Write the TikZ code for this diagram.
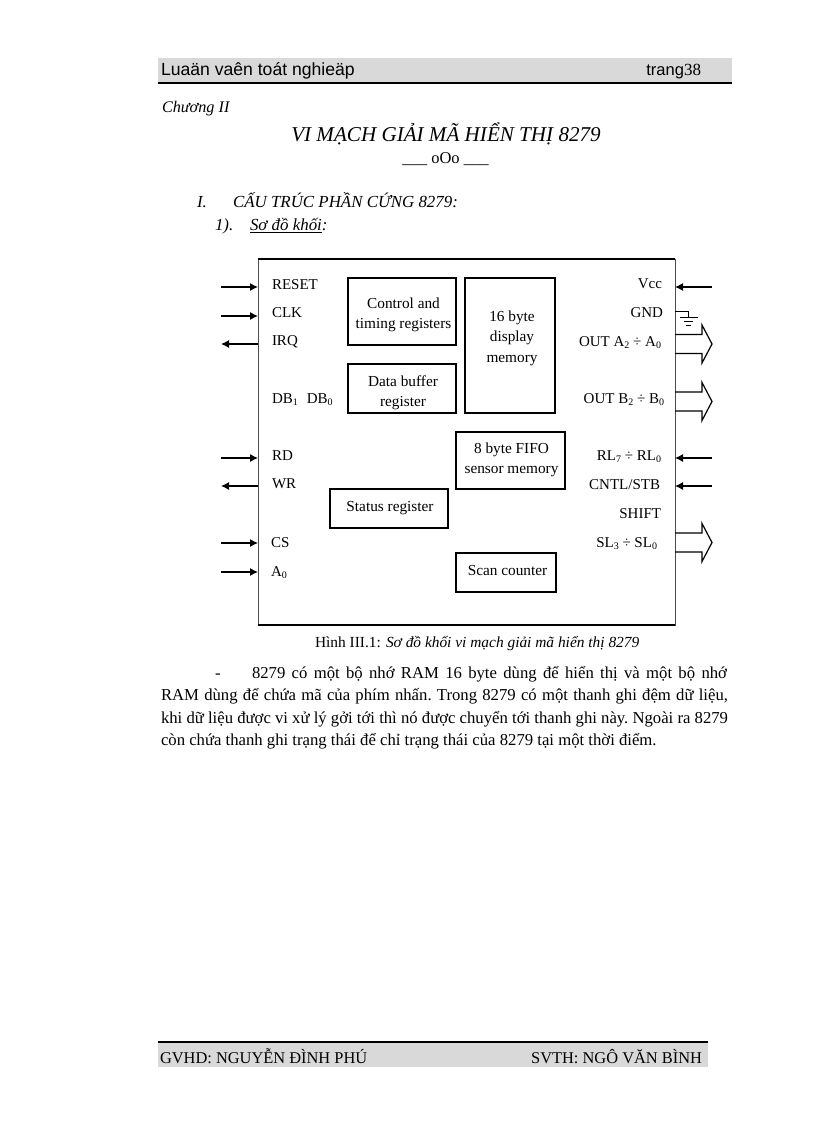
\documentclass[tikz,border=0pt]{standalone}
\usepackage{fontspec}
\setmainfont{Liberation Serif}
\newfontfamily\hdrfont{Liberation Sans}
\usetikzlibrary{arrows.meta}
\newcommand{\lowsb}[1]{\raisebox{-0.3ex}{\fontsize{10}{11}\selectfont #1}}
\tikzset{
 x=1pt,y=-1pt,
 every node/.style={inner sep=0pt,outer sep=0pt},
 lab/.style={font=\fontsize{15}{17}\selectfont,anchor=base west},
 labr/.style={font=\fontsize{15}{17}\selectfont,anchor=base east},
 blockbox/.style={draw=black,line width=1.25pt,anchor=north west},
 blocktext/.style={align=center,font=\fontsize{15.3}{20.5}\selectfont,anchor=north},
 chipbox/.style={draw=black!70,line width=1pt,anchor=north west},
 chipedge/.style={line width=2pt,black},
 sig/.style={line width=1.1pt,-{Latex[length=8pt,width=8pt]}},
 bus/.style={line width=1.2pt,line join=miter},
 gnd/.style={line width=1pt},
 bodyl/.style={font=\fontsize{16.7}{19}\selectfont\frenchspacing,anchor=base west},
 sect/.style={font=\fontsize{16.9}{19}\selectfont\itshape,anchor=base west},
 band/.style={fill=black!15,draw=none},
 rulel/.style={line width=2.6pt,black}
}
\begin{document}
\begin{tikzpicture}
\useasboundingbox (0,0) rectangle (816,1123);
\fill[white] (0,0) rectangle (816,1123);
% header
\fill[band] (158,58) rectangle (732,82);
\draw[rulel] (158,83) -- (732,83);
\node[anchor=base west,font=\hdrfont\fontsize{17.6}{19}\selectfont] (hl) at (161,76) {Luaän vaên toát nghieäp};
\node[anchor=base east] (hr) at (701,76) {\hdrfont\fontsize{16.5}{18}\selectfont trang\rmfamily\fontsize{17}{18}\selectfont 38};
\node[anchor=base west,font=\fontsize{16.2}{18}\selectfont\itshape] (ch) at (162,113) {Chương II};
\node[anchor=base,font=\fontsize{21.1}{24}\selectfont\itshape] (title) at (446,142) {VI MẠCH GIẢI MÃ HIỂN THỊ 8279};
\node[anchor=base,font=\fontsize{16.5}{18}\selectfont] (ooo) at (445.5,164) {\_\_\_ oOo \_\_\_};
\node[sect] (s1) at (197,208) {I.};
\node[sect] (s1t) at (233,208) {CẤU TRÚC PHẦN CỨNG 8279:};
\node[sect] (s2) at (215,231) {1).};
\node[sect] (s2t) at (250,231) {\underline{Sơ đồ khối}:};
% chip
\node[chipbox,minimum width=417pt,minimum height=366pt] (chip) at (258,259) {};
\draw[chipedge] (chip.north west) -- (chip.north east);
\draw[chipedge] (chip.south west) -- (chip.south east);
% blocks
\node[blockbox,minimum width=108pt,minimum height=67pt] (ctrl) at (348,278) {};
\node[blocktext] (ctrlt) at (403.5,293.65) {\strut Control and\\\strut timing registers};
\node[blockbox,minimum width=108pt,minimum height=49pt] (dbuf) at (348,364) {};
\node[blocktext] (dbuft) at (403,371.65) {\strut Data buffer\\\strut register};
\node[blockbox,minimum width=90pt,minimum height=135pt] (disp) at (465,278) {};
\node[blocktext] (dispt) at (512,306.65) {\strut 16 byte\\\strut display\\\strut memory};
\node[blockbox,minimum width=109pt,minimum height=57pt] (fifo) at (456,432) {};
\node[blocktext] (fifot) at (511.5,438.65) {\strut 8 byte FIFO\\\strut sensor memory};
\node[blockbox,minimum width=118pt,minimum height=39pt] (stat) at (330,489) {};
\node[blocktext] (statt) at (390,496.65) {\strut Status register};
\node[blockbox,minimum width=100pt,minimum height=39pt] (scan) at (456,553) {};
\node[blocktext] (scant) at (507.5,560.65) {\strut Scan counter};
% left labels
\node[lab] (lreset) at (272,289) {RESET};
\node[lab] (lclk) at (272,317) {CLK};
\node[lab] (lirq) at (272,345) {IRQ};
\node[lab] (ldb) at (272,403) {DB\lowsb{1}\hspace{9pt}DB\lowsb{0}};
\node[lab] (lrd) at (272,460) {RD};
\node[lab] (lwr) at (272,488) {WR};
\node[lab] (lcs) at (271,547) {CS};
\node[lab] (la0) at (271,576) {A\lowsb{0}};
% right labels
\node[labr] (lvcc) at (662,288) {Vcc};
\node[labr] (lgnd) at (663,317) {GND};
\node[labr] (lota) at (661,346) {OUT A\lowsb{2} ÷ A\lowsb{0}};
\node[labr] (lotb) at (664,403) {OUT B\lowsb{2} ÷ B\lowsb{0}};
\node[labr] (lrl) at (661,460) {RL\lowsb{7} ÷ RL\lowsb{0}};
\node[labr] (lcn) at (660,489) {CNTL/STB};
\node[labr] (lsh) at (661,518) {SHIFT};
\node[labr] (lsl) at (657,547) {SL\lowsb{3} ÷ SL\lowsb{0}};
% left connectors
\foreach \nm/\yy in {a/287,b/316,d/458,f/543,g/572}{
  \coordinate (p\nm) at (221,\yy);
  \coordinate (q\nm) at (258,\yy);
  \draw[sig] (p\nm) -- (q\nm);
}
\foreach \nm/\yy in {c/344,e/486}{
  \coordinate (p\nm) at (221,\yy);
  \coordinate (q\nm) at (258,\yy);
  \draw[sig] (q\nm) -- (p\nm);
}
% right connectors
\foreach \nm/\yy in {h/287,i/458,j/486}{
  \coordinate (r\nm) at (712,\yy);
  \coordinate (s\nm) at (675,\yy);
  \draw[sig] (r\nm) -- (s\nm);
}
% ground
\coordinate (g0) at (675,311);
\coordinate (g1) at (688,311);
\coordinate (g2) at (688,317);
\draw[gnd] (g0) -- (g1) -- (g2);
\draw[gnd] (680,317.5) -- (698,317.5);
\draw[gnd] (684,321.5) -- (693,321.5);
\draw[line width=1.3pt] (686,325.5) -- (691,325.5);
% bus arrows
\foreach \yy in {344,401.5,542.5}{
  \draw[bus] (675,\yy-9.5) -- (702,\yy-9.5) -- (702,\yy-19) -- (712,\yy) -- (702,\yy+19) -- (702,\yy+9.5) -- (675,\yy+9.5);
}
% caption
\node[anchor=base west,font=\fontsize{15.4}{17}\selectfont] (cap) at (315,647) {Hình III.1: \textit{Sơ đồ khối vi mạch giải mã hiển thị 8279}};
% body
\node[bodyl] (b0) at (215,678) {-};
\node[bodyl] (b1) at (252,678) {\makebox[475pt][s]{8279 có một bộ nhớ RAM 16 byte dùng để hiển thị và một bộ nhớ}};
\node[bodyl] (b2) at (161,700) {\makebox[567pt][s]{RAM dùng để chứa mã của phím nhấn. Trong 8279 có một thanh ghi đệm dữ liệu,}};
\node[bodyl] (b3) at (161,723) {\makebox[567pt][s]{khi dữ liệu được vi xử lý gởi tới thì nó được chuyển tới thanh ghi này. Ngoài ra 8279}};
\node[bodyl] (b4) at (161,745) {còn chứa thanh ghi trạng thái để chỉ trạng thái của 8279 tại một thời điểm.};
% footer
\fill[band] (158,1043) rectangle (708,1067);
\draw[rulel] (158,1042) -- (708,1042);
\node[anchor=base west,font=\fontsize{16.4}{18}\selectfont] (fl) at (160,1063) {GVHD: NGUYỄN ĐÌNH PHÚ};
\node[anchor=base east,font=\fontsize{16.4}{18}\selectfont] (fr) at (702,1063) {SVTH: NGÔ VĂN BÌNH};
\end{tikzpicture}
\end{document}
